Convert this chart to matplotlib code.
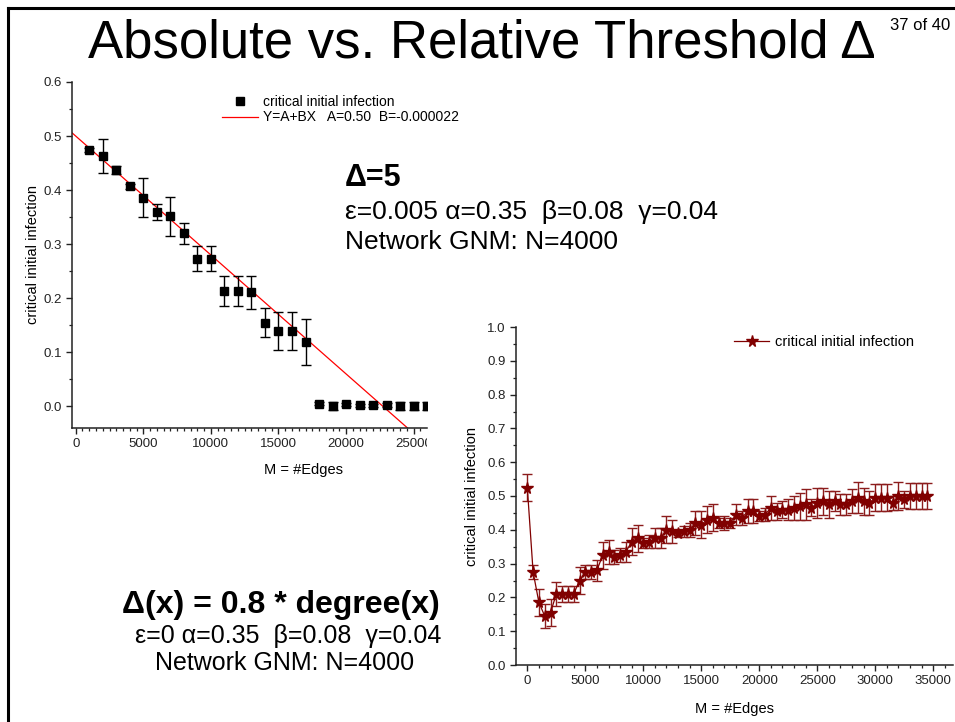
import numpy as np
import matplotlib
matplotlib.use("Agg")
import matplotlib.pyplot as plt
from matplotlib.lines import Line2D
from matplotlib.patches import Rectangle
from matplotlib.ticker import MultipleLocator

plt.rcParams['font.family'] = ['Liberation Sans', 'DejaVu Sans']

# ---- left chart: absolute threshold (Delta = 5) ----
abs_edges = [1000, 2000, 3000, 4000, 5000, 6000, 7000, 8000, 9000, 10000,
             11000, 12000, 13000, 14000, 15000, 16000, 17000, 18000, 19000,
             20000, 21000, 22000, 23000, 24000, 25000, 26000]
abs_crit = [0.474, 0.463, 0.437, 0.407, 0.386, 0.360, 0.352, 0.320, 0.273,
            0.273, 0.213, 0.213, 0.211, 0.155, 0.140, 0.140, 0.119, 0.005,
            0.001, 0.004, 0.002, 0.002, 0.003, 0.001, 0.001, 0.001]
abs_err = [0.003, 0.032, 0.007, 0.004, 0.036, 0.015, 0.036, 0.019, 0.023,
           0.023, 0.028, 0.028, 0.030, 0.027, 0.035, 0.035, 0.042, 0.003,
           0.008, 0.003, 0.003, 0.003, 0.004, 0.007, 0.007, 0.007]
fit_a = 0.50
fit_b = -0.000022

# ---- right chart: relative threshold ----
rel_edges = list(range(0, 35000, 500))
rel_crit = [0.525, 0.275, 0.185, 0.145, 0.155, 0.210, 0.210, 0.210, 0.210,
            0.250, 0.275, 0.275, 0.280, 0.325, 0.335, 0.320, 0.325, 0.335,
            0.365, 0.375, 0.360, 0.365, 0.375, 0.375, 0.400, 0.395, 0.390,
            0.395, 0.400, 0.420, 0.415, 0.430, 0.435, 0.420, 0.420, 0.420,
            0.445, 0.435, 0.455, 0.455, 0.440, 0.445, 0.465, 0.455, 0.460,
            0.460, 0.465, 0.470, 0.475, 0.465, 0.480, 0.485, 0.475, 0.485,
            0.475, 0.475, 0.485, 0.495, 0.485, 0.480, 0.495, 0.495, 0.495,
            0.480, 0.500, 0.490, 0.500, 0.500, 0.500, 0.500]
rel_err = [0.040, 0.020, 0.040, 0.035, 0.040, 0.035, 0.025, 0.025, 0.025,
           0.040, 0.020, 0.020, 0.030, 0.040, 0.035, 0.020, 0.020, 0.030,
           0.040, 0.040, 0.015, 0.020, 0.030, 0.030, 0.040, 0.035, 0.010,
           0.015, 0.020, 0.035, 0.040, 0.040, 0.040, 0.015, 0.020, 0.015,
           0.030, 0.020, 0.035, 0.035, 0.015, 0.020, 0.035, 0.025, 0.025,
           0.030, 0.035, 0.040, 0.045, 0.025, 0.045, 0.040, 0.040, 0.030,
           0.030, 0.030, 0.035, 0.045, 0.040, 0.035, 0.040, 0.040, 0.040,
           0.020, 0.040, 0.025, 0.038, 0.038, 0.038, 0.037]

W, H = 955, 722
fig = plt.figure(figsize=(W / 100, H / 100), dpi=100)


def fx(px):
    return px / W


def fy(py):
    return 1 - py / H


def style_axes(ax, tick_size=9.5):
    for s in ['top', 'right']:
        ax.spines[s].set_visible(False)
    for s in ['left', 'bottom']:
        ax.spines[s].set_linewidth(1.1)
        ax.spines[s].set_color('#222222')
    ax.tick_params(which='major', direction='out', length=4, width=1,
                   labelsize=tick_size, color='#222222', labelcolor='#222222')
    ax.tick_params(which='minor', direction='out', length=2.5, width=0.9,
                   color='#222222')


# slide frame
fig.add_artist(Line2D([fx(8), 1], [fy(8), fy(8)], color='black', lw=2.2,
                      transform=fig.transFigure))
fig.add_artist(Line2D([fx(8), fx(8)], [fy(8), 0], color='black', lw=2.2,
                      transform=fig.transFigure))

# title
fig.text(fx(88), fy(57), 'Absolute vs. Relative Threshold Δ', fontsize=38,
         ha='left', va='baseline')
fig.text(fx(890), fy(30), '37 of 40', fontsize=12, ha='left', va='baseline')

# ---- left axes ----
ax1 = fig.add_axes([fx(72), fy(428), fx(427) - fx(72), fy(82) - fy(428)])
ax1.set_xlim(-274, 25985)
ax1.set_ylim(-0.04, 0.6)
style_axes(ax1)
ax1.xaxis.set_major_locator(MultipleLocator(5000))
ax1.xaxis.set_minor_locator(MultipleLocator(500))
ax1.yaxis.set_major_locator(MultipleLocator(0.1))
ax1.yaxis.set_minor_locator(MultipleLocator(0.05))
ax1.yaxis.set_major_formatter(plt.FormatStrFormatter('%.1f'))

xfit = np.array([-274, 25985])
ax1.plot(xfit, fit_a + fit_b * xfit, color='red', lw=0.9, zorder=2)
ax1.errorbar(abs_edges, abs_crit, yerr=abs_err, fmt='s', color='black',
             ms=6, ecolor='black', elinewidth=1, capsize=3.5, capthick=1,
             zorder=3)
ax1.set_xlabel('M = #Edges', fontsize=10.5)
ax1.xaxis.set_label_coords((303 - 72) / (427 - 72), -0.10)
ax1.set_ylabel('critical initial infection', fontsize=10.5)
ax1.yaxis.set_label_coords(-0.09, 0.5)

leg1_handles = [
    Line2D([], [], marker='s', color='black', ls='none', ms=6),
    Line2D([], [], color='red', lw=0.9),
]
fig.legend(leg1_handles,
           ['critical initial infection', 'Y=A+BX   A=0.50  B=-0.000022'],
           loc='upper left', bbox_to_anchor=(fx(222), fy(95)),
           frameon=False, fontsize=10, handlelength=2.6,
           handletextpad=0.35, labelspacing=0.1, borderpad=0,
           borderaxespad=0)

# the left chart is cropped on its right side in the slide
fig.add_artist(Rectangle((fx(427), fy(452)), fx(452) - fx(427),
                         fy(430) - fy(452), transform=fig.transFigure,
                         facecolor='white', edgecolor='none', zorder=10))

# annotations
fig.text(fx(345), fy(186), 'Δ=5', fontsize=22, fontweight='bold',
         ha='left', va='baseline')
fig.text(fx(345), fy(219), 'ε=0.005 α=0.35  β=0.08  γ=0.04', fontsize=19,
         ha='left', va='baseline')
fig.text(fx(345), fy(249), 'Network GNM: N=4000', fontsize=19,
         ha='left', va='baseline')

fig.text(fx(281), fy(613), 'Δ(x) = 0.8 * degree(x)', fontsize=23,
         fontweight='bold', ha='center', va='baseline')
fig.text(fx(288), fy(643), 'ε=0 α=0.35  β=0.08  γ=0.04', fontsize=18,
         ha='center', va='baseline')
fig.text(fx(285), fy(670), 'Network GNM: N=4000', fontsize=18,
         ha='center', va='baseline')

# ---- right axes ----
ax2 = fig.add_axes([fx(516), fy(665), fx(953) - fx(516), fy(327) - fy(665)])
ax2.set_xlim(-975, 36700)
ax2.set_ylim(0, 1.0)
style_axes(ax2)
ax2.xaxis.set_major_locator(MultipleLocator(5000))
ax2.xaxis.set_minor_locator(MultipleLocator(1000))
ax2.yaxis.set_major_locator(MultipleLocator(0.1))
ax2.yaxis.set_minor_locator(MultipleLocator(0.05))
ax2.yaxis.set_major_formatter(plt.FormatStrFormatter('%.1f'))

dark_red = '#800000'
ax2.errorbar(rel_edges, rel_crit, yerr=rel_err, fmt='-*', color=dark_red,
             lw=0.9, ms=8.5, ecolor='#8c1c1c', elinewidth=1, capsize=3.5,
             capthick=1, zorder=3)
ax2.set_xlabel('M = #Edges', fontsize=10.5)
ax2.xaxis.set_label_coords(0.5, -0.11)
ax2.set_ylabel('critical initial infection', fontsize=10.5)
ax2.yaxis.set_label_coords(-0.084, 0.5)

leg2_handles = [Line2D([], [], marker='*', color=dark_red, lw=0.9, ms=8.5)]
fig.legend(leg2_handles, ['critical initial infection'], loc='upper left',
           bbox_to_anchor=(fx(734), fy(335)), frameon=False, fontsize=10.5,
           handlelength=2.4, handletextpad=0.4, borderpad=0,
           borderaxespad=0)

fig.savefig('out.png', dpi=100)
